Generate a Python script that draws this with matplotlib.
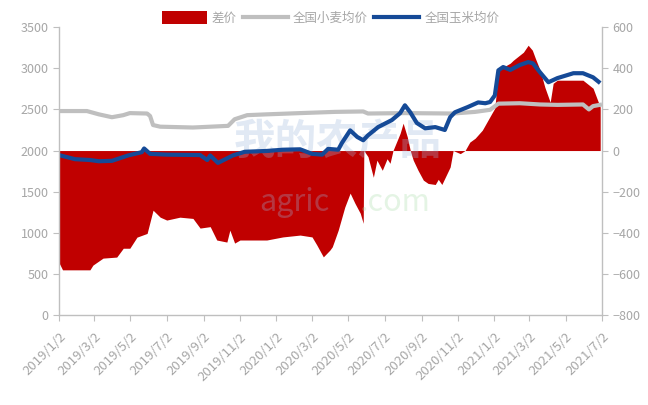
import matplotlib
matplotlib.use("Agg")
import matplotlib.pyplot as plt
import pandas as pd
from matplotlib.patches import Patch
from matplotlib.lines import Line2D

plt.rcParams["font.family"] = ["Noto Sans CJK SC", "DejaVu Sans"]

# 全国小麦均价 (left axis)
wheat_dates = [
    "2019-01-02", "2019-02-18", "2019-03-10", "2019-04-01", "2019-04-20", "2019-05-01",
    "2019-05-30", "2019-06-04", "2019-06-09", "2019-06-21", "2019-08-15", "2019-10-13",
    "2019-10-24", "2019-11-14", "2019-12-17", "2020-02-11", "2020-04-10", "2020-05-27",
    "2020-06-04", "2020-08-05", "2020-10-25", "2020-12-01", "2020-12-26", "2021-01-09",
    "2021-02-14", "2021-03-20", "2021-04-18", "2021-05-31", "2021-06-10", "2021-06-17",
    "2021-07-02",
]
wheat = [
    2480, 2480, 2440, 2405, 2430, 2455,
    2450, 2420, 2310, 2290, 2280, 2300,
    2380, 2430, 2440, 2455, 2470, 2475,
    2450, 2455, 2450, 2470, 2495, 2570,
    2575, 2560, 2555, 2560, 2500, 2540,
    2560,
]

# 全国玉米均价 (left axis)
corn_dates = [
    "2019-01-02", "2019-01-29", "2019-02-23", "2019-03-10", "2019-04-01", "2019-04-28",
    "2019-05-21", "2019-05-25", "2019-06-04", "2019-07-02", "2019-08-27", "2019-09-08",
    "2019-09-13", "2019-09-26", "2019-10-21", "2019-11-10", "2019-12-17", "2020-01-13",
    "2020-02-11", "2020-03-02", "2020-03-19", "2020-03-29", "2020-04-15", "2020-04-21",
    "2020-05-05", "2020-05-17", "2020-05-27", "2020-06-04", "2020-06-21", "2020-07-14",
    "2020-07-28", "2020-08-05", "2020-08-14", "2020-08-25", "2020-09-08", "2020-09-25",
    "2020-10-11", "2020-10-20", "2020-10-28", "2020-11-19", "2020-12-06", "2020-12-18",
    "2020-12-26", "2021-01-03", "2021-01-09", "2021-01-17", "2021-01-29", "2021-02-14",
    "2021-02-28", "2021-03-08", "2021-03-20", "2021-04-03", "2021-04-18", "2021-05-15",
    "2021-05-31", "2021-06-17", "2021-06-29",
]
corn = [
    1945, 1895, 1885, 1870, 1875, 1940,
    1980, 2025, 1960, 1950, 1945, 1885,
    1940, 1850, 1940, 1985, 1995, 2010,
    2015, 1960, 1950, 2020, 2010, 2090,
    2245, 2165, 2125, 2185, 2285, 2370,
    2455, 2550, 2465, 2335, 2270, 2285,
    2250, 2405, 2465, 2530, 2585, 2575,
    2590, 2670, 2975, 3015, 2980, 3040,
    3075, 3060, 2950, 2830, 2880, 2940,
    2940, 2890, 2820,
]

# 差价 (right axis)
diff_dates = [
    "2019-01-02", "2019-01-08", "2019-02-23", "2019-02-28", "2019-03-17", "2019-04-09",
    "2019-04-20", "2019-05-01", "2019-05-13", "2019-05-30", "2019-06-09", "2019-06-21",
    "2019-07-02", "2019-07-24", "2019-08-15", "2019-08-27", "2019-09-13", "2019-09-24",
    "2019-10-11", "2019-10-16", "2019-10-24", "2019-11-02", "2019-12-17", "2020-01-13",
    "2020-02-11", "2020-03-02", "2020-03-10", "2020-03-21", "2020-04-01", "2020-04-05",
    "2020-04-15", "2020-04-26", "2020-05-05", "2020-05-13", "2020-05-22", "2020-05-27",
    "2020-05-28", "2020-06-04", "2020-06-13", "2020-06-19", "2020-06-28", "2020-07-06",
    "2020-07-11", "2020-07-16", "2020-07-28", "2020-08-02", "2020-08-09", "2020-08-14",
    "2020-08-19", "2020-08-27", "2020-09-05", "2020-09-13", "2020-09-25", "2020-09-30",
    "2020-10-06", "2020-10-20", "2020-10-25", "2020-11-06", "2020-11-14", "2020-11-22",
    "2020-12-01", "2020-12-13", "2020-12-29", "2021-01-03", "2021-01-09", "2021-01-17",
    "2021-01-29", "2021-02-03", "2021-02-20", "2021-02-28", "2021-03-07", "2021-03-12",
    "2021-03-20", "2021-03-28", "2021-04-06", "2021-04-11", "2021-04-18", "2021-05-31",
    "2021-06-17", "2021-06-29",
]
diff = [
    -545, -580, -580, -557, -523, -518,
    -475, -475, -421, -403, -290, -324,
    -338, -324, -330, -377, -370, -435,
    -445, -387, -450, -435, -435, -420,
    -411, -420, -459, -517, -484, -468,
    -387, -275, -207, -256, -305, -354,
    0, -30, -130, -47, -96, -40,
    -62, 0, 84, 133, 66, 0,
    -47, -96, -144, -160, -165, -140,
    -165, -80, 0, -15, 0, 41,
    60, 99, 181, 206, 391, 405,
    425, 439, 478, 512, 488, 449,
    391, 308, 235, 327, 342, 342,
    303, 211,
]

tick_dates = [
    "2019-01-02", "2019-03-02", "2019-05-02", "2019-07-02", "2019-09-02", "2019-11-02",
    "2020-01-02", "2020-03-02", "2020-05-02", "2020-07-02", "2020-09-02", "2020-11-02",
    "2021-01-02", "2021-03-02", "2021-05-02", "2021-07-02",
]
tick_labels = [
    "2019/1/2", "2019/3/2", "2019/5/2", "2019/7/2", "2019/9/2", "2019/11/2",
    "2020/1/2", "2020/3/2", "2020/5/2", "2020/7/2", "2020/9/2", "2020/11/2",
    "2021/1/2", "2021/3/2", "2021/5/2", "2021/7/2",
]

RED = "#C00000"
GRAY = "#BFBFBF"
BLUE = "#154A97"
TXT = "#A6A6A6"

fig = plt.figure(figsize=(6.48, 4.05), dpi=100)
ax = fig.add_axes([0.091, 0.222, 0.838, 0.711])
ax2 = ax.twinx()
ax.set_zorder(2)
ax.patch.set_visible(False)

# red area on right axis, behind the price lines
ax2.fill_between(pd.to_datetime(diff_dates), diff, 0, color=RED, linewidth=0)

ax.plot(pd.to_datetime(wheat_dates), wheat, color=GRAY, lw=3, solid_capstyle="butt")
ax.plot(pd.to_datetime(corn_dates), corn, color=BLUE, lw=3, solid_capstyle="butt")

ax.set_ylim(0, 3500)
ax.set_yticks(range(0, 3501, 500))
ax2.set_ylim(-800, 600)
ax2.set_yticks(range(-800, 601, 200))

ax.set_xlim(pd.Timestamp("2019-01-02"), pd.Timestamp("2021-07-02"))
ax.set_xticks(pd.to_datetime(tick_dates))
ax.set_xticklabels(tick_labels, rotation=45, ha="right", rotation_mode="anchor")

for a in (ax, ax2):
    for s in a.spines.values():
        s.set_color("#BFBFBF")
        s.set_linewidth(1)
    a.spines["top"].set_visible(False)
    a.tick_params(colors="#BFBFBF", labelcolor=TXT, labelsize=9, length=4, direction="out")
ax.spines["right"].set_visible(False)
ax2.spines["left"].set_visible(False)
ax2.spines["bottom"].set_visible(False)
ax.tick_params(axis="x", labelsize=9.5, pad=7)

# faint watermark
fig.text(0.36, 0.62, "我的农产品", fontsize=30, color="#9DB7DC", alpha=0.3,
         fontweight="bold", zorder=0)
fig.text(0.40, 0.48, "agric", fontsize=22, color="#9DB7DC", alpha=0.3, zorder=0)
fig.text(0.555, 0.48, ".com", fontsize=22, color="#A8DCA8", alpha=0.3, zorder=0)

handles = [
    Patch(facecolor=RED, edgecolor="none"),
    Line2D([], [], color=GRAY, lw=3),
    Line2D([], [], color=BLUE, lw=3),
]
fig.legend(handles, ["差价", "全国小麦均价", "全国玉米均价"], loc="upper center",
           bbox_to_anchor=(0.51, 1.0), ncol=3, frameon=False, fontsize=9,
           labelcolor=TXT, handlelength=3.6, handleheight=1.2,
           handletextpad=0.4, columnspacing=0.5)

fig.savefig("out.png", dpi=100)
